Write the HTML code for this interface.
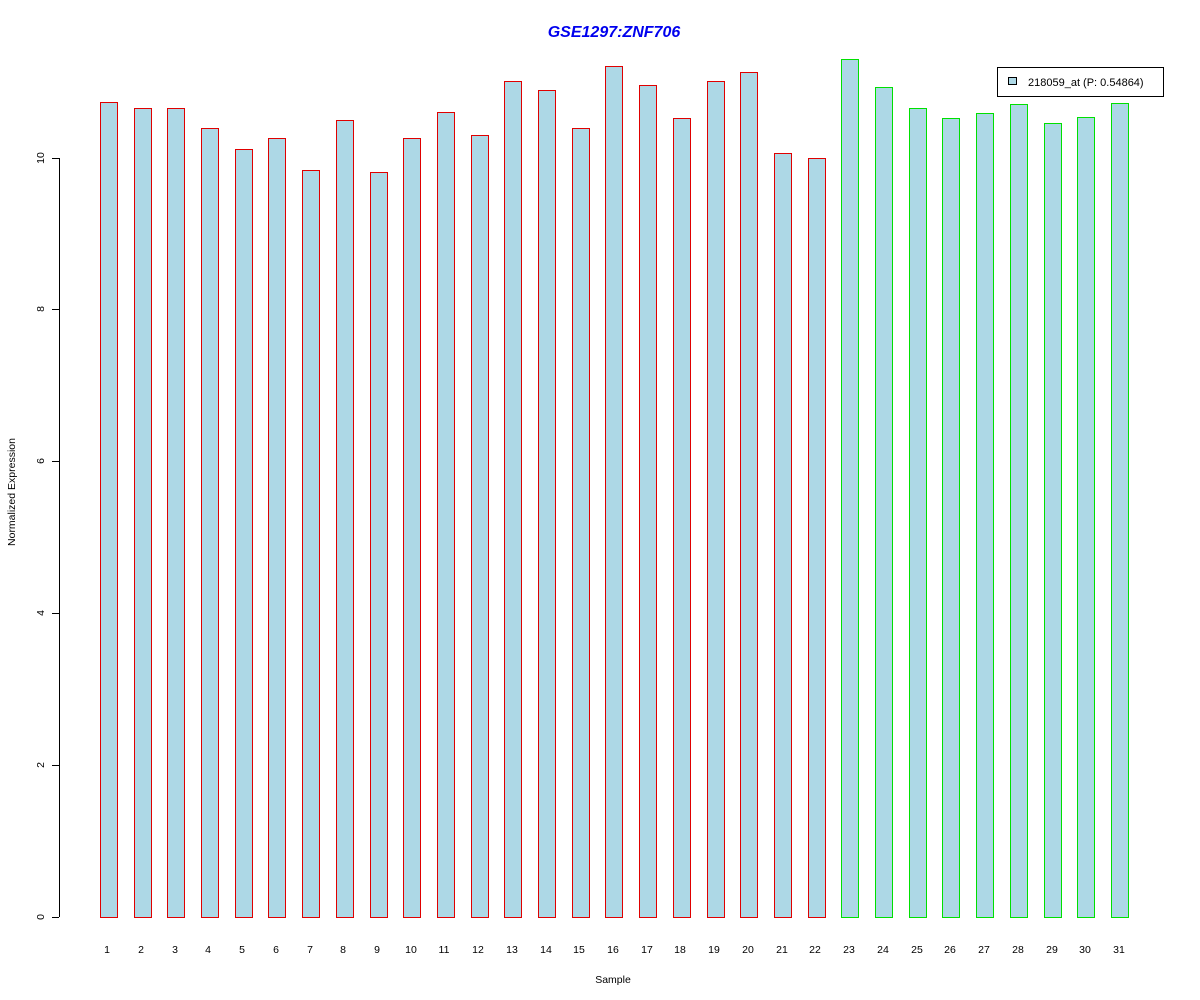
<!DOCTYPE html>
<html><head><meta charset="utf-8"><style>
html,body{margin:0;padding:0;background:#fff;}
svg{display:block;font-family:"Liberation Sans",Arial,sans-serif;}
</style></head><body>
<svg width="1200" height="1000" xmlns="http://www.w3.org/2000/svg" shape-rendering="crispEdges">
<rect width="1200" height="1000" fill="#fff"/>
<text x="614" y="37" text-anchor="middle" font-size="16" font-weight="bold" font-style="italic" fill="#0000ee">GSE1297:ZNF706</text>
<g stroke="#000" stroke-width="1">
<line x1="59.5" y1="158" x2="59.5" y2="917"/>
<line x1="52" y1="917.5" x2="59" y2="917.5"/>
<line x1="52" y1="765.5" x2="59" y2="765.5"/>
<line x1="52" y1="613.5" x2="59" y2="613.5"/>
<line x1="52" y1="461.5" x2="59" y2="461.5"/>
<line x1="52" y1="309.5" x2="59" y2="309.5"/>
<line x1="52" y1="158.5" x2="59" y2="158.5"/>
</g>
<g font-size="10.5" fill="#000" text-anchor="middle">
<text transform="translate(44,917) rotate(-90)">0</text>
<text transform="translate(44,765) rotate(-90)">2</text>
<text transform="translate(44,613) rotate(-90)">4</text>
<text transform="translate(44,461) rotate(-90)">6</text>
<text transform="translate(44,309) rotate(-90)">8</text>
<text transform="translate(44,158) rotate(-90)">10</text>
<text transform="translate(15,492) rotate(-90)">Normalized Expression</text>
<text x="613" y="983">Sample</text>
</g>
<g fill="#add8e6" stroke="#e00000" stroke-width="1">
<rect x="100.5" y="102.5" width="17" height="815"/>
<rect x="134.5" y="108.5" width="17" height="809"/>
<rect x="167.5" y="108.5" width="17" height="809"/>
<rect x="201.5" y="128.5" width="17" height="789"/>
<rect x="235.5" y="149.5" width="17" height="768"/>
<rect x="268.5" y="138.5" width="17" height="779"/>
<rect x="302.5" y="170.5" width="17" height="747"/>
<rect x="336.5" y="120.5" width="17" height="797"/>
<rect x="370.5" y="172.5" width="17" height="745"/>
<rect x="403.5" y="138.5" width="17" height="779"/>
<rect x="437.5" y="112.5" width="17" height="805"/>
<rect x="471.5" y="135.5" width="17" height="782"/>
<rect x="504.5" y="81.5" width="17" height="836"/>
<rect x="538.5" y="90.5" width="17" height="827"/>
<rect x="572.5" y="128.5" width="17" height="789"/>
<rect x="605.5" y="66.5" width="17" height="851"/>
<rect x="639.5" y="85.5" width="17" height="832"/>
<rect x="673.5" y="118.5" width="17" height="799"/>
<rect x="707.5" y="81.5" width="17" height="836"/>
<rect x="740.5" y="72.5" width="17" height="845"/>
<rect x="774.5" y="153.5" width="17" height="764"/>
<rect x="808.5" y="158.5" width="17" height="759"/>
</g>
<g fill="#add8e6" stroke="#00e000" stroke-width="1">
<rect x="841.5" y="59.5" width="17" height="858"/>
<rect x="875.5" y="87.5" width="17" height="830"/>
<rect x="909.5" y="108.5" width="17" height="809"/>
<rect x="942.5" y="118.5" width="17" height="799"/>
<rect x="976.5" y="113.5" width="17" height="804"/>
<rect x="1010.5" y="104.5" width="17" height="813"/>
<rect x="1044.5" y="123.5" width="17" height="794"/>
<rect x="1077.5" y="117.5" width="17" height="800"/>
<rect x="1111.5" y="103.5" width="17" height="814"/>
</g>
<g font-size="10.5" text-anchor="middle" fill="#000">
<text x="107" y="953">1</text><text x="141" y="953">2</text><text x="175" y="953">3</text><text x="208" y="953">4</text>
<text x="242" y="953">5</text><text x="276" y="953">6</text><text x="310" y="953">7</text><text x="343" y="953">8</text>
<text x="377" y="953">9</text><text x="411" y="953">10</text><text x="444" y="953">11</text><text x="478" y="953">12</text>
<text x="512" y="953">13</text><text x="546" y="953">14</text><text x="579" y="953">15</text><text x="613" y="953">16</text>
<text x="647" y="953">17</text><text x="680" y="953">18</text><text x="714" y="953">19</text><text x="748" y="953">20</text>
<text x="782" y="953">21</text><text x="815" y="953">22</text><text x="849" y="953">23</text><text x="883" y="953">24</text>
<text x="917" y="953">25</text><text x="950" y="953">26</text><text x="984" y="953">27</text><text x="1018" y="953">28</text>
<text x="1052" y="953">29</text><text x="1085" y="953">30</text><text x="1119" y="953">31</text>
</g>
<rect x="997.5" y="67.5" width="166" height="29" fill="#fff" stroke="#000"/>
<rect x="1008.5" y="77.5" width="8" height="7" fill="#add8e6" stroke="#000"/>
<text x="1028" y="86" font-size="11">218059_at (P: 0.54864)</text>
</svg>
</body></html>
